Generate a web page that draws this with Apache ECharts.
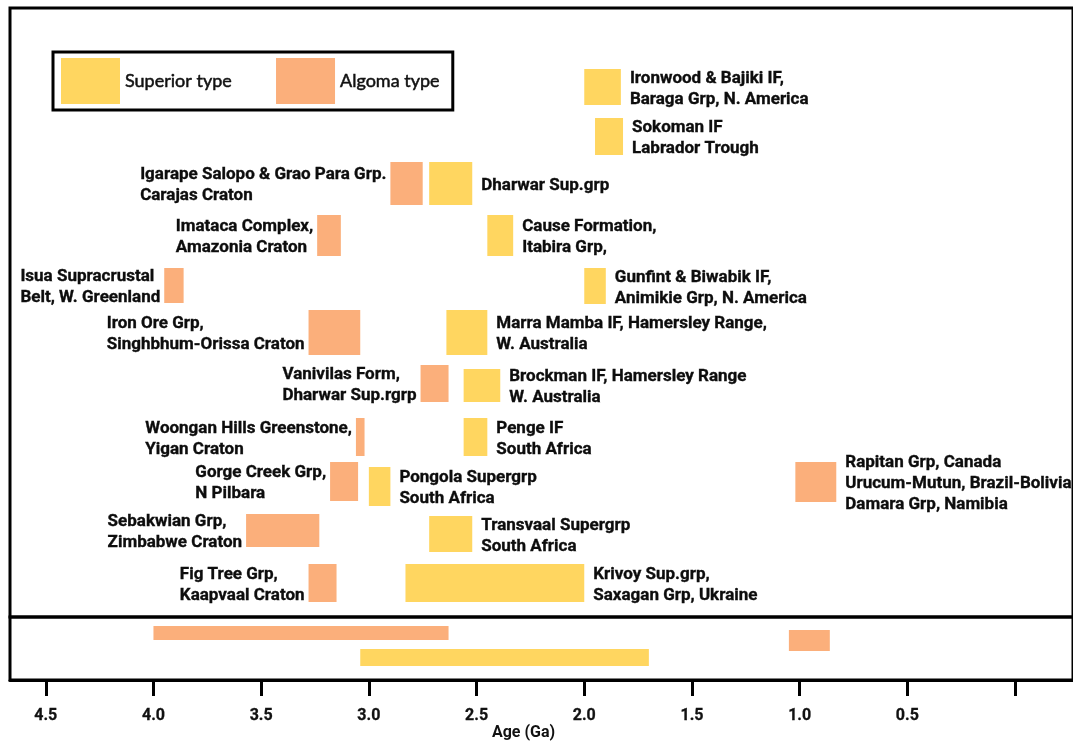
<!DOCTYPE html>
<html>
<head>
<meta charset="utf-8">
<script src="https://cdn.jsdelivr.net/npm/echarts@6/dist/echarts.min.js"></script>
<style>
  html, body { margin: 0; padding: 0; background: #ffffff; }
  #chart { width: 1073px; height: 743px; }
</style>
</head>
<body>
<div id="chart"></div>
<script>
// ---- Superior-type iron formations: label, oldest and youngest age (Ga)
const superiorNames = [
  'Ironwood & Bajiki IF,\nBaraga Grp, N. America',
  'Sokoman IF\nLabrador Trough',
  'Dharwar Sup.grp',
  'Cause Formation,\nItabira Grp,',
  'Gunfint & Biwabik IF,\nAnimikie Grp, N. America',
  'Marra Mamba IF, Hamersley Range,\nW. Australia',
  'Brockman IF, Hamersley Range\nW. Australia',
  'Penge IF\nSouth Africa',
  'Pongola Supergrp\nSouth Africa',
  'Transvaal Supergrp\nSouth Africa',
  'Krivoy Sup.grp,\nSaxagan Grp, Ukraine'
];
const superiorOld   = [2.00, 1.95, 2.72, 2.45, 2.00, 2.64, 2.56, 2.56, 3.00, 2.72, 2.83];
const superiorYoung = [1.83, 1.82, 2.52, 2.33, 1.90, 2.45, 2.39, 2.45, 2.90, 2.52, 2.00];

// ---- Algoma-type iron formations
const algomaNames = [
  'Igarape Salopo & Grao Para Grp.\nCarajas Craton',
  'Imataca Complex,\nAmazonia Craton',
  'Isua Supracrustal\nBelt, W. Greenland',
  'Iron Ore Grp,\nSinghbhum-Orissa Craton',
  'Vanivilas Form,\nDharwar Sup.rgrp',
  'Woongan Hills Greenstone,\nYigan Craton',
  'Gorge Creek Grp,\nN Pilbara',
  'Sebakwian Grp,\nZimbabwe Craton',
  'Fig Tree Grp,\nKaapvaal Craton',
  'Rapitan Grp, Canada\nUrucum-Mutun, Brazil-Bolivia\nDamara Grp, Namibia'
];
const algomaOld   = [2.90, 3.24, 3.95, 3.28, 2.76, 3.06, 3.18, 3.57, 3.28, 1.02];
const algomaYoung = [2.75, 3.13, 3.86, 3.04, 2.63, 3.02, 3.05, 3.23, 3.15, 0.83];

// ---- Overall age span of each type (lower strip)
const spanTypes = ['Algoma type', 'Superior type', 'Algoma type'];
const spanOld   = [4.00, 3.04, 1.05];
const spanYoung = [2.63, 1.70, 0.86];

// ---- Age axis
const tickAges  = [0, 0.5, 1.0, 1.5, 2.0, 2.5, 3.0, 3.5, 4.0, 4.5];
const labelAges = [0.5, 1.0, 1.5, 2.0, 2.5, 3.0, 3.5, 4.0, 4.5];

// ---- Layout: vertical band of each bar inside its panel (panel units, 0 = panel top)
const superiorBands = [[61, 97], [110, 147], [154, 197], [207, 248], [260, 296], [302, 347],
                       [361, 394], [410, 448], [459, 498], [508, 544], [556, 594]];
const algomaBands = [[154, 197], [207, 248], [260, 295], [302, 347], [357, 394], [410, 448],
                     [454, 493], [506, 539], [556, 594], [454, 494]];
const algomaLabelSide = ['left', 'left', 'left', 'left', 'left', 'left', 'left', 'left', 'left', 'right'];
const spanBands = [[9, 23], [32, 49], [13, 34]];

const COLORS = { 'Superior type': '#ffd660', 'Algoma type': '#fbaf7b' };
const LABEL_FONT = 'bold 17px Roboto, "Liberation Sans", Arial, sans-serif';
const LINE_H = 21;

const measureCtx = document.createElement('canvas').getContext('2d');
function blockWidth(text) {
  measureCtx.font = LABEL_FONT;
  return Math.max.apply(null, text.split('\n').map(l => measureCtx.measureText(l).width));
}

// Builds a renderItem for a set of bars with side labels
function barRenderer(names, sides) {
  return function (params, api) {
    const pOld = api.coord([api.value(0), api.value(2)]);
    const pYoung = api.coord([api.value(1), api.value(3)]);
    const x = Math.min(pOld[0], pYoung[0]);
    const w = Math.abs(pYoung[0] - pOld[0]);
    const y = Math.min(pOld[1], pYoung[1]);
    const h = Math.abs(pYoung[1] - pOld[1]);
    const children = [{
      type: 'rect',
      shape: { x: x, y: y, width: w, height: h },
      style: { fill: api.visual('color') }
    }];
    if (names) {
      const text = names[params.dataIndex];
      const side = sides ? sides[params.dataIndex] : 'right';
      const tx = side === 'right' ? x + w + 9 : x - 4 - blockWidth(text);
      children.push({
        type: 'text',
        x: tx,
        y: y + h / 2 + 2,
        style: {
          text: text,
          font: LABEL_FONT,
          fill: '#0d0d0d',
          stroke: '#0d0d0d',
          lineWidth: 0.35,
          align: 'left',
          verticalAlign: 'middle',
          lineHeight: LINE_H
        }
      });
    }
    return { type: 'group', children: children };
  };
}

function rows(old, young, bands) {
  return old.map((o, i) => [o, young[i], bands[i][0], bands[i][1]]);
}

const spanSuperior = [], spanAlgoma = [];
spanTypes.forEach((t, i) => {
  const row = [spanOld[i], spanYoung[i], spanBands[i][0], spanBands[i][1]];
  (t === 'Superior type' ? spanSuperior : spanAlgoma).push(row);
});

const AGE_MIN = -0.269, AGE_MAX = 4.666;

const chart = echarts.init(document.getElementById('chart'), null, { renderer: 'canvas' });
chart.setOption({
  animation: false,
  backgroundColor: '#ffffff',
  legend: {
    left: 53, top: 52,
    data: [{ name: 'Superior type', icon: 'rect' }, { name: 'Algoma type', icon: 'rect' }],
    itemWidth: 59, itemHeight: 46, itemGap: 44,
    padding: [6, 13, 6, 8],
    borderColor: '#000000', borderWidth: 3,
    selectedMode: false,
    textStyle: {
      fontFamily: 'Lato', fontSize: 18, color: '#111111',
      textBorderColor: '#111111', textBorderWidth: 0.5
    }
  },
  grid: [
    { left: 10, right: -5, top: 8, height: 609, show: true, borderColor: '#000000', borderWidth: 3, backgroundColor: 'transparent' },
    { left: 10, right: -5, top: 617, height: 63, show: true, borderColor: '#000000', borderWidth: 3, backgroundColor: 'transparent' }
  ],
  xAxis: [
    { type: 'value', gridIndex: 0, position: 'bottom', inverse: true, min: AGE_MIN, max: AGE_MAX, show: false },
    {
      type: 'value', gridIndex: 1, position: 'bottom', inverse: true, min: AGE_MIN, max: AGE_MAX,
      name: 'Age (Ga)', nameLocation: 'middle', nameGap: 44,
      nameTextStyle: { fontFamily: 'Roboto', fontWeight: 'bold', fontSize: 16, color: '#111111', padding: [0, 36, 0, 0] },
      axisLine: { show: true, onZero: false, lineStyle: { color: '#000000', width: 3 } },
      axisTick: { show: true, inside: false, length: 16, customValues: tickAges, lineStyle: { color: '#000000', width: 3 } },
      axisLabel: {
        customValues: labelAges, margin: 28,
        fontFamily: 'Roboto', fontWeight: 'bold', fontSize: 16, color: '#111111',
        textBorderColor: '#111111', textBorderWidth: 0.3,
        formatter: v => v.toFixed(1)
      },
      splitLine: { show: false }
    }
  ],
  yAxis: [
    { type: 'value', gridIndex: 0, inverse: true, min: 0, max: 609, show: false },
    { type: 'value', gridIndex: 1, inverse: true, min: 0, max: 63, show: false }
  ],
  series: [
    {
      name: 'Superior type', type: 'custom', xAxisIndex: 0, yAxisIndex: 0,
      itemStyle: { color: COLORS['Superior type'] },
      renderItem: barRenderer(superiorNames, null),
      data: rows(superiorOld, superiorYoung, superiorBands)
    },
    {
      name: 'Algoma type', type: 'custom', xAxisIndex: 0, yAxisIndex: 0,
      itemStyle: { color: COLORS['Algoma type'] },
      renderItem: barRenderer(algomaNames, algomaLabelSide),
      data: rows(algomaOld, algomaYoung, algomaBands)
    },
    {
      name: 'Algoma type', type: 'custom', xAxisIndex: 1, yAxisIndex: 1,
      itemStyle: { color: COLORS['Algoma type'] },
      renderItem: barRenderer(null, null),
      data: spanAlgoma
    },
    {
      name: 'Superior type', type: 'custom', xAxisIndex: 1, yAxisIndex: 1,
      itemStyle: { color: COLORS['Superior type'] },
      renderItem: barRenderer(null, null),
      data: spanSuperior
    }
  ]
});
</script>
</body>
</html>
